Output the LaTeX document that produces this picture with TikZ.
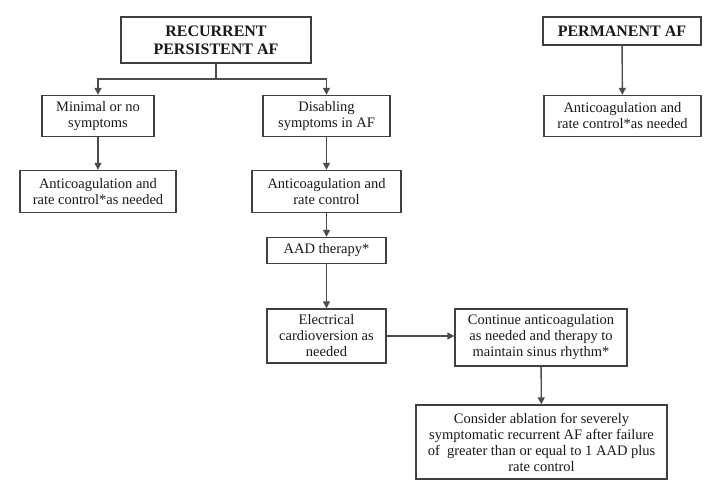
\documentclass[tikz,border=0pt]{standalone}
\usepackage{fontspec}
\setmainfont{Liberation Serif}
\usetikzlibrary{arrows.meta}
\begin{document}
\begin{tikzpicture}[x=1pt,y=-1pt,
  box/.style={draw=black!75,line width=1.4pt,fill=white,align=center,inner sep=0pt,
    font=\fontsize{14.5}{16}\selectfont,text=black!90},
  hbox/.style={box,font=\fontsize{16}{18}\bfseries\selectfont},
  arr/.style={draw=black!70,line width=1.4pt,-{Triangle[length=7pt,width=7pt]}},
  ln/.style={draw=black!70,line width=1.4pt}]
\useasboundingbox[fill=white] (0,0) rectangle (716,492);
\node[hbox,minimum width=190pt,minimum height=46pt] (rec) at (216,40) {RECURRENT\\PERSISTENT AF};
\node[hbox,minimum width=158pt,minimum height=28pt] (perm) at (622,31) {PERMANENT AF};
\node[box,minimum width=112pt,minimum height=41pt] (min) at (98,116) {Minimal or no\\symptoms};
\node[box,minimum width=127pt,minimum height=41pt] (dis) at (326.5,116) {Disabling\\symptoms in AF};
\node[box,minimum width=156pt,minimum height=42pt] (ac1) at (98,191.5) {Anticoagulation and\\rate control*as needed};
\node[box,minimum width=149pt,minimum height=42pt] (ac2) at (326.5,191.5) {Anticoagulation and\\rate control};
\node[box,minimum width=119pt,minimum height=26pt] (aad) at (326.5,250.5) {AAD therapy*};
\node[box,minimum width=119pt,minimum height=54pt] (ele) at (326.5,336) {Electrical\\cardioversion as\\needed};
\node[box,minimum width=172pt,minimum height=57pt] (cont) at (541,337.5) {Continue anticoagulation\\as needed and therapy to\\maintain sinus rhythm*};
\node[box,minimum width=251pt,minimum height=74pt] (abl) at (541.5,442) {Consider ablation for severely\\symptomatic recurrent AF after failure\\of\ \ greater than or equal to 1 AAD plus\\rate control};
\node[box,minimum width=157pt,minimum height=41pt] (pac) at (622.5,116) {Anticoagulation and\\rate control*as needed};
\coordinate (j) at (216,79);
\draw[ln] (rec) -- (j);
\draw[arr] (j) -| (min);
\draw[arr] (j) -| (dis);
\draw[arr] (min) -- (ac1);
\draw[arr] (dis) -- (ac2);
\draw[arr] (ac2) -- (aad);
\draw[arr] (aad) -- (ele);
\draw[arr] (ele.east) -- (ele.east -| cont.west);
\draw[arr] (cont) -- (abl);
\draw[arr] (perm) -- (pac);
\end{tikzpicture}
\end{document}
